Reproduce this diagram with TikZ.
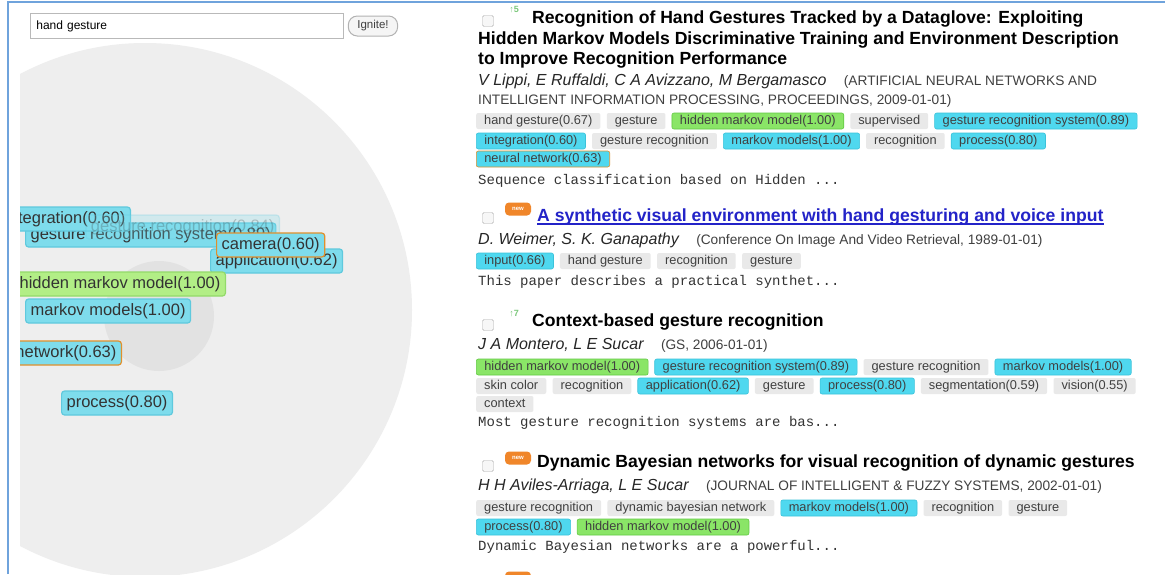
\documentclass[tikz,border=0pt]{standalone}
\usepackage{fontspec}
\setmainfont{Liberation Sans}
\setmonofont{Liberation Mono}
\usetikzlibrary{positioning}

\definecolor{frame}{HTML}{6FA3DC}
\definecolor{disc}{HTML}{EEEEEE}
\definecolor{core}{HTML}{E2E2E2}
\definecolor{taggray}{HTML}{E9E9E9}
\definecolor{hitcyan}{HTML}{4FD8EF}
\definecolor{hitedge}{HTML}{3BC2DA}
\definecolor{hmmgreen}{HTML}{8AE567}
\definecolor{hmmedge}{HTML}{62C943}
\definecolor{cloudcyan}{HTML}{7EDCEC}
\definecolor{cloudedge}{HTML}{5FC9DD}
\definecolor{cloudgreen}{HTML}{B2EE86}
\definecolor{cloudgedge}{HTML}{93DA6A}
\definecolor{camedge}{HTML}{E0902C}
\definecolor{linkblue}{HTML}{2323C8}
\definecolor{badge}{HTML}{F0862A}
\definecolor{upgreen}{HTML}{7CC87C}

\newcommand{\tagsize}{\fontsize{12.8}{14}\selectfont}

\begin{document}
\begin{tikzpicture}[x=1pt,y=-1pt,
  tag/.style={font=\tagsize, text=black!75, fill=taggray, rounded corners=2pt,
    inner xsep=8pt, inner ysep=0pt, minimum height=16pt, text height=9pt, text depth=2.5pt},
  hit/.style={tag, fill=hitcyan, draw=hitedge, line width=.6pt},
  hmm/.style={tag, fill=hmmgreen, draw=hmmedge, line width=.6pt},
  cloud/.style={font=\fontsize{16.5}{18}\selectfont, text=black!80, fill=cloudcyan,
    draw=cloudedge, line width=1.2pt, rounded corners=3pt, inner xsep=5pt,
    minimum height=24pt, text height=11.5pt, text depth=3.5pt},
  cloudhmm/.style={cloud, fill=cloudgreen, draw=cloudgedge},
  ttl/.style={font=\fontsize{17.6}{20}\selectfont\bfseries, anchor=west, inner sep=0pt},
  auth/.style={font=\fontsize{16}{18}\selectfont\itshape, anchor=west, inner sep=0pt, text=black!85},
  pub/.style={font=\fontsize{13.7}{15}\selectfont, inner sep=0pt, text=black!75},
  snip/.style={font=\fontsize{14}{15}\selectfont\ttfamily, anchor=west, inner sep=0pt, text=black!80},
  box/.style={draw=gray!65, fill=gray!6, rounded corners=1.5pt, minimum size=11pt, inner sep=0pt},
  new/.style={fill=badge, rounded corners=4pt, text=white, font=\fontsize{6}{6}\selectfont\bfseries,
    minimum width=26pt, minimum height=13pt, inner sep=0pt},
  up/.style={text=upgreen, font=\fontsize{9}{9}\selectfont\bfseries, inner sep=0pt}]
\clip (0,0) rectangle (1165,574);
\fill[white] (0,0) rectangle (1165,574);

% tag cloud
\begin{scope}
\clip (20,0) rectangle (470,574);
\fill[disc] (145,310) circle (267);
\fill[core] (159,316) circle (55);
\node[cloud, anchor=west] (gsys) at (25,235) {gesture recognition system(0.89)};
\node[cloud, anchor=east] (integ) at (131,219) {integration(0.60)};
\node[cloud, anchor=east, opacity=.25] (grec) at (280,227) {gesture recognition(0.84)};
\node[cloud, anchor=west] (appl) at (210,261) {application(0.62)};
\node[cloud, anchor=west, draw=camedge] (cam) at (216,245) {camera(0.60)};
\node[cloudhmm, anchor=west] (hmm) at (14,284) {hidden markov model(1.00)};
\node[cloud, anchor=west] (mm) at (25,311) {markov models(1.00)};
\node[cloud, anchor=east, draw=camedge] (nn) at (122,353) {neural network(0.63)};
\node[cloud, anchor=west] (proc) at (61,403) {process(0.80)};
\end{scope}

% search field
\node[draw=gray!55, fill=white, line width=.8pt, anchor=west, minimum height=25pt,
  text width=301pt, inner xsep=6pt, align=left, font=\fontsize{12}{14}\selectfont] (q) at (30,26) {hand gesture};
\node[draw=gray!60, fill=gray!8, line width=1pt, rounded corners=9pt, minimum height=20pt,
  inner xsep=9pt, font=\fontsize{11.5}{12}\selectfont, text=black!75, right=4pt of q] (go) {Ignite!};

\draw[frame, line width=1.5pt] (8,574) -- (8,2) -- (1165,2);

% hit 1
\node[box] (c1) at (488,21) {};
\node[up] (u1) at (514,10) {↑5};
\node[ttl] (h1a) at (532,19) {Recognition of Hand Gestures Tracked by a Dataglove: Exploiting};
\node[ttl] (h1b) at (478,40) {Hidden Markov Models Discriminative Training and Environment Description};
\node[ttl] (h1c) at (478,60) {to Improve Recognition Performance};
\node[auth] (a1) at (478,81) {V Lippi, E Ruffaldi, C A Avizzano, M Bergamasco};
\node[pub, right=17pt of a1.base east, anchor=base west] (p1) {(ARTIFICIAL NEURAL NETWORKS AND};
\node[pub, anchor=west] (p1b) at (478,101) {INTELLIGENT INFORMATION PROCESSING, PROCEEDINGS, 2009-01-01)};
\node[tag, anchor=west] (k11) at (476,121) {hand gesture(0.67)};
\node[tag, right=6pt of k11] (k12) {gesture};
\node[hmm, right=6pt of k12] (k13) {hidden markov model(1.00)};
\node[tag, right=6pt of k13] (k14) {supervised};
\node[hit, right=6pt of k14] (k15) {gesture recognition system(0.89)};
\node[hit, anchor=west] (k16) at (476,141) {integration(0.60)};
\node[tag, right=6pt of k16] (k17) {gesture recognition};
\node[hit, right=6pt of k17] (k18) {markov models(1.00)};
\node[tag, right=6pt of k18] (k19) {recognition};
\node[hit, right=6pt of k19] (k110) {process(0.80)};
\node[hit, anchor=west, draw=camedge] (k111) at (476,159) {neural network(0.63)};
\node[snip] (s1) at (478,181) {Sequence classification based on Hidden ...};

% hit 2
\node[box] (c2) at (488,218) {};
\node[new] (n2) at (518,209) {new};
\node[ttl, text=linkblue] (h2) at (537,217) {A synthetic visual environment with hand gesturing and voice input};
\draw[linkblue, line width=1.2pt] ([yshift=-2.5pt]h2.base west) -- ([yshift=-2.5pt]h2.base east);
\node[auth] (a2) at (478,240) {D. Weimer, S. K. Ganapathy};
\node[pub, right=17pt of a2.base east, anchor=base west] (p2) {(Conference On Image And Video Retrieval, 1989-01-01)};
\node[hit, anchor=west] (k21) at (476,261) {input(0.66)};
\node[tag, right=6pt of k21] (k22) {hand gesture};
\node[tag, right=6pt of k22] (k23) {recognition};
\node[tag, right=6pt of k23] (k24) {gesture};
\node[snip] (s2) at (478,282) {This paper describes a practical synthet...};

% hit 3
\node[box] (c3) at (488,325) {};
\node[up] (u3) at (514,314) {↑7};
\node[ttl] (h3) at (532,322) {Context-based gesture recognition};
\node[auth] (a3) at (478,345) {J A Montero, L E Sucar};
\node[pub, right=17pt of a3.base east, anchor=base west] (p3) {(GS, 2006-01-01)};
\node[hmm, anchor=west] (k31) at (476,367) {hidden markov model(1.00)};
\node[hit, right=6pt of k31] (k32) {gesture recognition system(0.89)};
\node[tag, right=6pt of k32] (k33) {gesture recognition};
\node[hit, right=6pt of k33] (k34) {markov models(1.00)};
\node[tag, anchor=west] (k35) at (476,386) {skin color};
\node[tag, right=6pt of k35] (k36) {recognition};
\node[hit, right=6pt of k36] (k37) {application(0.62)};
\node[tag, right=6pt of k37] (k38) {gesture};
\node[hit, right=6pt of k38] (k39) {process(0.80)};
\node[tag, right=6pt of k39] (k310) {segmentation(0.59)};
\node[tag, right=6pt of k310] (k311) {vision(0.55)};
\node[tag, anchor=west] (k312) at (476,404) {context};
\node[snip] (s3) at (478,423) {Most gesture recognition systems are bas...};

% hit 4
\node[box] (c4) at (488,466) {};
\node[new] (n4) at (518,458) {new};
\node[ttl] (h4) at (537,463) {Dynamic Bayesian networks for visual recognition of dynamic gestures};
\node[auth] (a4) at (478,486) {H H Aviles-Arriaga, L E Sucar};
\node[pub, right=17pt of a4.base east, anchor=base west] (p4) {(JOURNAL OF INTELLIGENT \& FUZZY SYSTEMS, 2002-01-01)};
\node[tag, anchor=west] (k41) at (476,508) {gesture recognition};
\node[tag, right=6pt of k41] (k42) {dynamic bayesian network};
\node[hit, right=6pt of k42] (k43) {markov models(1.00)};
\node[tag, right=6pt of k43] (k44) {recognition};
\node[tag, right=6pt of k44] (k45) {gesture};
\node[hit, anchor=west] (k46) at (476,527) {process(0.80)};
\node[hmm, right=6pt of k46] (k47) {hidden markov model(1.00)};
\node[snip] (s4) at (478,547) {Dynamic Bayesian networks are a powerful...};

% next hit, cut off
\node[new] (n5) at (518,578) {};
\end{tikzpicture}
\end{document}
